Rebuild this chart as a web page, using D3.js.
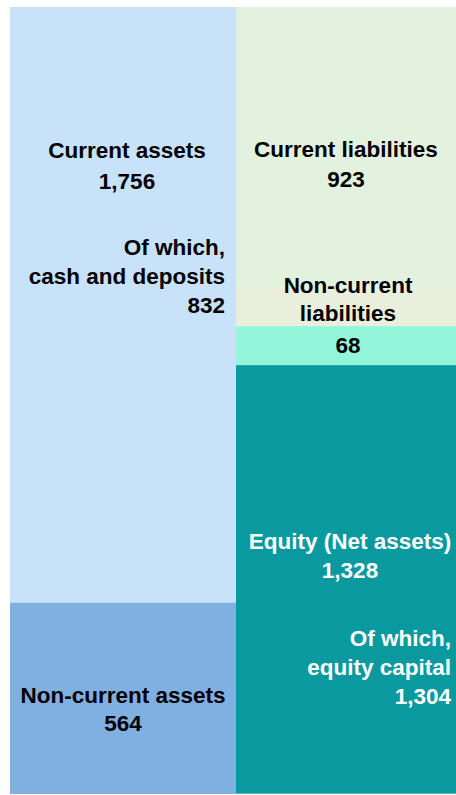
<!DOCTYPE html>
<html>
<head>
<meta charset="utf-8">
<script src="https://cdn.jsdelivr.net/npm/d3@7"></script>
<style>
  html, body { margin: 0; padding: 0; background: #fff; }
  svg { display: block; }
  text { font-family: "Liberation Sans", Arial, sans-serif; font-weight: bold; font-size: 22.5px; }
</style>
</head>
<body>
<script>
// Balance sheet (unit: 100 million yen)
const columns = ["Assets", "Liabilities and net assets"];
const assetItems = ["Current assets", "Non-current assets"];
const assetValues = [1756, 564];
const liabilityItems = ["Current liabilities", "Non-current liabilities", "Equity (Net assets)"];
const liabilityValues = [923, 68, 1328];
const subItems = ["cash and deposits", "equity capital"];
const subValues = [832, 1304];

const w = 456, h = 795;
const fmt = d3.format(",");

// the chart is cropped on the right, so the second column runs past the edge
let x = d3.scaleBand().domain(columns).range([10, 462]).padding(0);
let y = d3.scaleLinear().domain([0, d3.sum(assetValues)]).range([7, 794]);

let svg = d3.select("body").append("svg")
  .attr("width", w)
  .attr("height", h);

// stack values into segments
function stack(values){
  let cum = 0;
  return values.map(v => { let s = {v: v, y0: y(cum), y1: y(cum + v)}; cum += v; return s; });
}
let assets = stack(assetValues);
let liabs = stack(liabilityValues);

// small segment gets a minimum height so its label fits (grows a bit more upward)
let minBand = 78;
let extra = minBand - (liabs[1].y1 - liabs[1].y0);
liabs[1].y0 -= extra * 0.6;
liabs[1].y1 += extra * 0.4;
liabs[0].y1 = liabs[1].y0;
liabs[2].y0 = liabs[1].y1;
let mid = (liabs[1].y0 + liabs[1].y1) / 2;

let xa = x(columns[0]), xl = x(columns[1]), bw = x.bandwidth();

// left column
svg.append("rect").attr("x", xa).attr("width", bw)
  .attr("y", assets[0].y0).attr("height", assets[0].y1 - assets[0].y0).attr("fill", "#c8e2f9");
svg.append("rect").attr("x", xa).attr("width", bw)
  .attr("y", assets[1].y0).attr("height", assets[1].y1 - assets[1].y0).attr("fill", "#80afe2");

// right column
svg.append("rect").attr("x", xl).attr("width", bw)
  .attr("y", liabs[0].y0).attr("height", liabs[0].y1 - liabs[0].y0).attr("fill", "#e2f2de");
svg.append("rect").attr("x", xl).attr("width", bw)
  .attr("y", liabs[1].y0).attr("height", mid - liabs[1].y0).attr("fill", "#eaeedd");
svg.append("rect").attr("x", xl).attr("width", bw)
  .attr("y", mid).attr("height", liabs[1].y1 - mid).attr("fill", "#93f5d9");
svg.append("rect").attr("x", xl).attr("width", bw)
  .attr("y", liabs[2].y0).attr("height", liabs[2].y1 - liabs[2].y0).attr("fill", "#0b99a0");

// draw a block of lines
function label(lines, px, py, lh, anchor, color){
  let t = svg.append("text")
    .attr("text-anchor", anchor)
    .attr("fill", color);
  lines.forEach((s, i) => {
    t.append("tspan").attr("x", px).attr("y", py + i * lh).text(s);
  });
}

let ca = xa + bw / 2, cl = xl + bw / 2;

label([assetItems[0], fmt(assetValues[0])], ca + 4, assets[0].y0 + 151, 31, "middle", "#000");
label(["Of which,", subItems[0], fmt(subValues[0])], xa + bw - 11, assets[0].y0 + 248, 29, "end", "#000");
label([assetItems[1], fmt(assetValues[1])], ca, assets[1].y0 + 100, 28, "middle", "#000");

label([liabilityItems[0], fmt(liabilityValues[0])], cl - 3, liabs[0].y0 + 150, 30, "middle", "#000");
label(["Non-current", "liabilities"], cl - 1, liabs[1].y0 + 6, 28, "middle", "#000");
label([fmt(liabilityValues[1])], cl - 1, mid + 27, 28, "middle", "#000");

let emid = (liabs[2].y0 + liabs[2].y1) / 2;
label([liabilityItems[2], fmt(liabilityValues[2])], cl + 1, emid - 30, 29, "middle", "#fff");
label(["Of which,", subItems[1], fmt(subValues[1])], xl + bw - 11, emid + 67, 29, "end", "#fff");
</script>
</body>
</html>
